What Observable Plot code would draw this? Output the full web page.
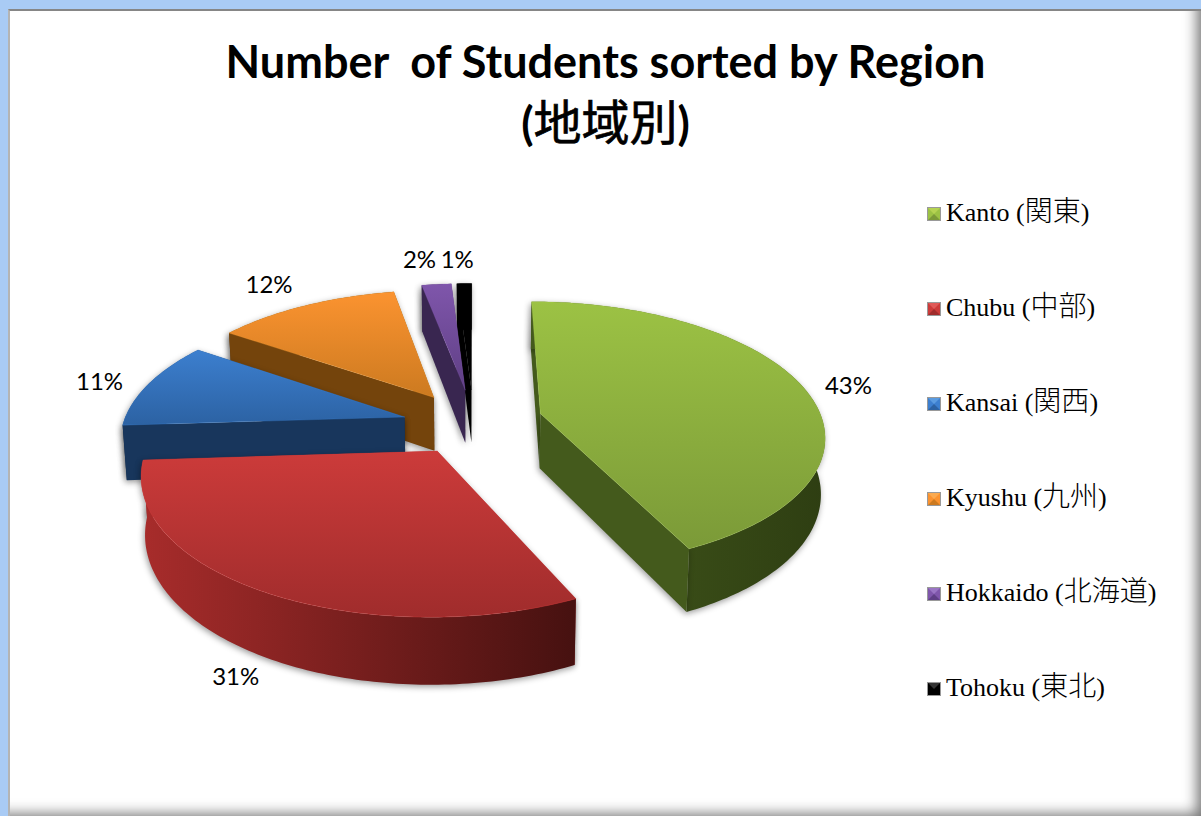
<!DOCTYPE html>
<html><head><meta charset="utf-8">
<script src="https://cdn.jsdelivr.net/npm/d3@7"></script>
<script src="https://cdn.jsdelivr.net/npm/@observablehq/plot@0.6"></script>
<style>
html,body{margin:0;padding:0;width:1201px;height:816px;overflow:hidden;background:#a9cbf5}
#frame{position:absolute;left:8px;top:9px;width:1193px;height:807px;background:#fff;box-sizing:border-box;
 border-top:2px solid #868686;border-left:2px solid #b4b4b4;overflow:hidden}
#shade{position:absolute;inset:0;pointer-events:none;box-shadow:inset -10px -8px 14px -6px rgba(0,0,0,.55)}
#title{position:absolute;left:-5px;top:0;width:1201px;height:160px;text-align:center;white-space:pre-line;
 font:700 45px/58px Lato,"Noto Sans CJK JP",sans-serif;color:#000;padding-top:21px;box-sizing:border-box}
#title .t{white-space:pre}
#title .c{font-family:"Noto Sans CJK JP",sans-serif;font-weight:400;font-size:48px;-webkit-text-stroke:.7px #000}
#chart{position:absolute;left:-10px;top:158px}
#legend{position:absolute;left:917px;top:0;font:26px/32px "Liberation Serif","Noto Sans CJK JP",serif;color:#000}
.row{position:absolute;left:0;white-space:pre;display:flex;align-items:center;height:32px}
.row .c{font-family:"Noto Sans CJK JP",sans-serif;font-size:28px;font-weight:300}
.sw{width:0;height:0;border:7px solid;outline:1px solid #999;outline-offset:-1px;margin-right:5px;margin-top:5px}
</style></head><body>
<div id="frame">
 <div id="title"><span class="t">Number  of Students sorted by Region</span>
(<span class="c">地域別</span>)</div>
 <div id="chart"></div>
 <div id="legend"></div>
 <div id="shade"></div>
</div>
<script>
// Data
const regions = ["Kanto","Chubu","Kansai","Kyushu","Hokkaido","Tohoku"];
const regionLatin = ["Kanto (","Chubu (","Kansai (","Kyushu (","Hokkaido (","Tohoku ("];
const regionKanji = ["関東","中部","関西","九州","北海道","東北"];
const shares = [43,31,10.6,12.4,2,1];
const percentLabels = ["43%","31%","11%","12%","2%","1%"];
const topLight = ["#9cc244","#cc3b3a","#3c7fcf","#fb9330","#7f56ab","#000000"];
const topDark  = ["#7b9a38","#a02c2c","#2c62a3","#cc7a20","#5f3f85","#000000"];
const wallLight= ["#445a1c","#a82c2b","#18365c","#74440c","#392650","#000000"];
const wallDark = ["#2e3e12","#461110","#17335a","#6d400c","#33224c","#000000"];
const swatchTop= ["#b5d352","#e05a58","#5a9be0","#fbaa50","#9a75c4","#333333"];
const labelDx = [46,-24,-52,-39,-17,-7];
const labelDy = [0,89,3,-17,-24,-23];
const nudgeX = [0,0,-3,-3,0,0];
const nudgeY = [0,2,5,3,0,0];

// Pie projection constants (unit radius, tilted, perspective)
const explode = 0.245, persp = 0.153, depth = 0.42, lean = 0.988;
const svgW = 905, svgH = 650, pxX = 282, pxY = 131, cxPx = 473, cyPx = 251;

const rad = d => d * Math.PI / 180;
let acc = 0;
const slices = shares.map((v,i) => {
  const a0 = acc * 3.6; acc += v; const a1 = acc * 3.6;
  return {i, v, a0, a1, mid:(a0+a1)/2};
});
function proj(u, w, low, i=-1) {
  const s = 1 / (1 + persp * w);
  let X = u * s, Y = w * s;
  if (low) { X *= lean; Y -= depth * s; }
  if (i >= 0) { X += nudgeX[i] / pxX; Y -= nudgeY[i] / pxY; }
  return {X, Y, w};
}
function ground(sl, ang, r) {
  const eu = explode * Math.sin(rad(sl.mid)), ew = explode * Math.cos(rad(sl.mid));
  return [eu + r * Math.sin(rad(ang)), ew + r * Math.cos(rad(ang))];
}
function arc(sl) {
  const n = Math.max(2, Math.ceil(sl.a1 - sl.a0));
  return d3.range(n + 1).map(k => sl.a0 + (sl.a1 - sl.a0) * k / n);
}
const grad = (id, x2, y2, c0, c1) =>
 `<linearGradient id="${id}" x1="0" y1="0" x2="${x2}" y2="${y2}"><stop offset="0" stop-color="${c0}"/><stop offset="1" stop-color="${c1}"/></linearGradient>`;
const defs = () => d3.create("svg:defs").html(
  slices.map(s => grad("top"+s.i,0,1,topLight[s.i],topDark[s.i]) + grad("wall"+s.i,1,0,wallLight[s.i],wallDark[s.i])).join("")
).node();

const shadow = "drop-shadow(-1px 2px 3px rgba(0,0,0,.4))";
const faceMark = (pts, fill, extra={}) => Plot.line(pts, {x:"X", y:"Y", fill, stroke:"none", curve:"linear", ...extra});

function sliceMarks(sl) {
  const I = sl.i;
  const hi = g => proj(g[0], g[1], false, I), lo = g => proj(g[0], g[1], true, I);
  const angs = arc(sl);
  const topPts = [hi(ground(sl,0,0))].concat(angs.map(a => hi(ground(sl,a,1))));
  topPts.push(topPts[0]);
  const apexG = ground(sl,0,0), g0 = ground(sl,sl.a0,1), g1 = ground(sl,sl.a1,1);
  const quad = (ga,gb) => [hi(ga),hi(gb),lo(gb),lo(ga),hi(ga)];
  const rimPts = angs.map(a => hi(ground(sl,a,1)))
     .concat(angs.slice().reverse().map(a => lo(ground(sl,a,1))));
  rimPts.push(rimPts[0]);
  const solid = wallLight[I];
  const walls = [
    {w:(apexG[1]+g0[1])/2, pts:quad(apexG,g0), fill:solid},
    {w:(apexG[1]+g1[1])/2, pts:quad(apexG,g1), fill:solid},
    {w:d3.mean(angs, a => ground(sl,a,1)[1]), pts:rimPts, fill:`url(#wall${I})`}
  ].sort((a,b) => b.w - a.w);
  return [
    ...walls.map(f => faceMark(f.pts, f.fill, {imageFilter:shadow})),
    faceMark(topPts, `url(#top${I})`, {stroke:d3.color(topLight[I]).brighter(0.3).formatHex(), strokeWidth:0.8, strokeOpacity:0.35})
  ];
}
const order = [5,4,3,2,0,1];
const labels = slices.map(s => ({...proj(...ground(s,s.mid,1)), text:percentLabels[s.i], dx:labelDx[s.i], dy:labelDy[s.i]}));

const plot = Plot.plot({
  width: svgW, height: svgH, margin: 0,
  style:{background:"transparent", overflow:"visible"},
  x:{domain:[(0-cxPx)/pxX,(svgW-cxPx)/pxX], range:[0,svgW], axis:null},
  y:{domain:[cyPx/pxY,(cyPx-svgH)/pxY], range:[0,svgH], axis:null},
  marks:[
    defs,
    ...order.flatMap(i => sliceMarks(slices[i])),
    ...labels.map(l => Plot.text([l], {x:"X", y:"Y", text:"text", dx:l.dx, dy:l.dy,
        fontFamily:"Lato, sans-serif", fontSize:24, fill:"#000"}))
  ]
});
document.getElementById("chart").appendChild(plot);

const legend = document.getElementById("legend");
regions.forEach((_,i) => {
  const r = document.createElement("div");
  r.className = "row";
  r.style.top = (184 + 95*i) + "px";
  const sw = document.createElement("span");
  sw.className = "sw";
  sw.style.borderColor = `${swatchTop[i]} ${topLight[i]} ${topDark[i]} ${topLight[i]}`;
  r.appendChild(sw);
  const t = document.createElement("span");
  const k = document.createElement("span");
  k.className = "c";
  k.textContent = regionKanji[i];
  t.append(regionLatin[i], k, ")");
  r.appendChild(t);
  legend.appendChild(r);
});
</script>
</body></html>
